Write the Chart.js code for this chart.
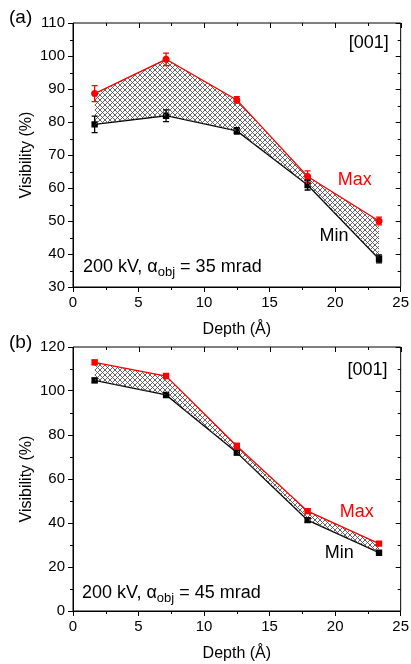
<!DOCTYPE html>
<html>
<head>
<meta charset="utf-8">
<script src="https://cdn.jsdelivr.net/npm/chart.js@4"></script>
<style>
  body { margin: 0; background: #fff; }
  #wrap { position: relative; width: 411px; height: 664px; }
  .panel { position: absolute; left: 0; width: 411px; }
  #pa { top: 0; height: 342px; }
  #pb { top: 330px; height: 334px; }
</style>
</head>
<body>
<div id="wrap">
  <div class="panel" id="pa"><canvas id="chartA"></canvas></div>
  <div class="panel" id="pb"><canvas id="chartB"></canvas></div>
</div>
<script>
// depth positions (Å), same for both panels
var depths = [1.65, 7.1, 12.5, 17.9, 23.35];

// panel (a): 35 mrad
var maxA = [88.6, 99.0, 86.7, 63.5, 50.0];
var maxErrA = [2.4, 1.9, 1.0, 1.7, 1.2];
var minA = [79.3, 81.9, 77.3, 60.9, 38.5];
var minErrA = [2.5, 1.8, 1.0, 1.5, 1.2];

// panel (b): 45 mrad
var maxB = [113.0, 106.8, 75.0, 45.4, 30.6];
var maxErrB = [1.0, 0.8, 1.2, 1.0, 0.8];
var minB = [104.8, 98.2, 72.0, 41.3, 26.5];
var minErrB = [1.0, 0.8, 1.0, 1.0, 0.6];

var xTicks = [0, 5, 10, 15, 20, 25];

Chart.defaults.font.family = '"Liberation Sans", Arial, sans-serif';
Chart.defaults.color = '#000';

function toPoints(ys) {
    return depths.map((d, i) => ({ x: d, y: ys[i] }));
}

function makeHatch() {
    var c = document.createElement('canvas');
    c.width = 5; c.height = 5;
    var g = c.getContext('2d');
    g.strokeStyle = '#555';
    g.lineWidth = 0.9;
    g.beginPath();
    g.moveTo(0, 0); g.lineTo(5, 5);
    g.moveTo(5, 0); g.lineTo(0, 5);
    g.stroke();
    return g.createPattern(c, 'repeat');
}

// error bars, minor ticks, mirrored frame and text labels
var extrasPlugin = {
    id: 'extras',
    afterDatasetsDraw(chart, args, opts) {
        var ctx = chart.ctx;
        var xs = chart.scales.x, ys = chart.scales.y;
        ctx.save();
        chart.data.datasets.forEach((ds) => {
            if (!ds.errors) return;
            ctx.strokeStyle = ds.borderColor;
            ctx.lineWidth = 1.3;
            ds.data.forEach((p, i) => {
                var px = xs.getPixelForValue(p.x);
                var top = ys.getPixelForValue(p.y + ds.errors[i]);
                var bot = ys.getPixelForValue(p.y - ds.errors[i]);
                ctx.beginPath();
                ctx.moveTo(px, top); ctx.lineTo(px, bot);
                ctx.moveTo(px - 3, top); ctx.lineTo(px + 3, top);
                ctx.moveTo(px - 3, bot); ctx.lineTo(px + 3, bot);
                ctx.stroke();
            });
        });
        ctx.restore();
    },
    afterDraw(chart, args, opts) {
        var ctx = chart.ctx;
        var a = chart.chartArea;
        var xs = chart.scales.x, ys = chart.scales.y;
        ctx.save();
        ctx.strokeStyle = '#000';
        ctx.lineWidth = 1;
        ctx.beginPath();
        ctx.rect(a.left, a.top, a.right - a.left, a.bottom - a.top);
        ctx.stroke();

        // x ticks: minor outward at bottom, all inward at top
        for (var v = xs.min; v <= xs.max + 1e-9; v += opts.xMinor) {
            var px = Math.round(xs.getPixelForValue(v)) + 0.5;
            var major = Math.abs(v / xs.options.ticks.stepSize - Math.round(v / xs.options.ticks.stepSize)) < 1e-6;
            ctx.beginPath();
            if (!major) { ctx.moveTo(px, a.bottom); ctx.lineTo(px, a.bottom + 3); }
            ctx.moveTo(px, a.top); ctx.lineTo(px, a.top + (major ? 5 : 3));
            ctx.stroke();
        }
        // y ticks: minor outward at left, all inward at right
        for (var w = ys.min; w <= ys.max + 1e-9; w += opts.yMinor) {
            var py = Math.round(ys.getPixelForValue(w)) + 0.5;
            var majorY = Math.abs(w / ys.options.ticks.stepSize - Math.round(w / ys.options.ticks.stepSize)) < 1e-6;
            ctx.beginPath();
            if (!majorY) { ctx.moveTo(a.left, py); ctx.lineTo(a.left - 3, py); }
            ctx.moveTo(a.right, py); ctx.lineTo(a.right - (majorY ? 5 : 3), py);
            ctx.stroke();
        }

        ctx.textBaseline = 'middle';
        (opts.labels || []).forEach((l) => {
            ctx.fillStyle = l.color || '#000';
            var x = xs.getPixelForValue(l.x);
            var y = ys.getPixelForValue(l.y);
            ctx.font = '18px "Liberation Sans", Arial, sans-serif';
            var w = ctx.measureText(l.text).width;
            ctx.textAlign = 'left';
            ctx.fillText(l.text, l.align === 'right' ? x - w : x, y);
        });

        // condition text with subscript
        if (opts.cond) {
            var c = opts.cond;
            var cx = xs.getPixelForValue(c.x);
            var cy = ys.getPixelForValue(c.y);
            ctx.fillStyle = '#000';
            ctx.textAlign = 'left';
            ctx.font = '18px "Liberation Sans", Arial, sans-serif';
            ctx.fillText(c.pre, cx, cy);
            cx += ctx.measureText(c.pre).width;
            ctx.font = '13px "Liberation Sans", Arial, sans-serif';
            ctx.fillText(c.sub, cx, cy + 5);
            cx += ctx.measureText(c.sub).width;
            ctx.font = '18px "Liberation Sans", Arial, sans-serif';
            ctx.fillText(c.post, cx, cy);
        }

        ctx.font = '19px "Liberation Sans", Arial, sans-serif';
        ctx.textAlign = 'left';
        ctx.fillStyle = '#000';
        ctx.fillText(opts.panel, opts.panelX, opts.panelY);
        ctx.restore();
    }
};

function buildChart(id, cfg) {
    var hatch = makeHatch();
    return new Chart(document.getElementById(id), {
        type: 'line',
        data: {
            datasets: [
                {
                    label: 'Max',
                    data: toPoints(cfg.max),
                    errors: cfg.maxErr,
                    borderColor: '#ff0000',
                    backgroundColor: hatch,
                    borderWidth: 1.3,
                    pointStyle: cfg.maxStyle,
                    pointRadius: cfg.maxStyle === 'rect' ? 4.5 : 3.5,
                    pointBackgroundColor: '#ff0000',
                    pointBorderWidth: 0,
                    fill: '+1',
                    tension: 0
                },
                {
                    label: 'Min',
                    data: toPoints(cfg.min),
                    errors: cfg.minErr,
                    borderColor: '#000000',
                    backgroundColor: '#000000',
                    borderWidth: 1.3,
                    pointStyle: 'rect',
                    pointRadius: 4.5,
                    pointBackgroundColor: '#000000',
                    pointBorderWidth: 0,
                    fill: false,
                    tension: 0
                }
            ]
        },
        options: {
            responsive: true,
            maintainAspectRatio: false,
            animation: false,
            layout: { padding: { top: cfg.top, right: 10, left: 0, bottom: 0 } },
            plugins: {
                legend: { display: false },
                tooltip: { enabled: false },
                extras: {
                    xMinor: 2.5,
                    yMinor: cfg.yMinor,
                    labels: cfg.labels,
                    cond: cfg.cond,
                    panel: cfg.panel,
                    panelX: cfg.panelX,
                    panelY: cfg.panelY
                }
            },
            scales: {
                x: {
                    type: 'linear',
                    min: 0,
                    max: 25,
                    afterBuildTicks: (s) => { s.ticks = xTicks.map(v => ({ value: v })); },
                    ticks: { stepSize: 5, font: { size: 15 }, padding: 2, maxRotation: 0 },
                    grid: { drawOnChartArea: false, tickLength: 5, color: '#000', tickWidth: 1 },
                    border: { color: '#000', width: 1 },
                    title: { display: true, text: 'Depth (Å)', font: { size: 16 }, padding: { top: 0, bottom: cfg.titlePad } },
                    afterFit: (s) => { s.height = cfg.xHeight; }
                },
                y: {
                    min: cfg.yMin,
                    max: cfg.yMax,
                    ticks: { stepSize: cfg.yStep, font: { size: 15 }, padding: 3 },
                    grid: { drawOnChartArea: false, tickLength: 5, color: '#000', tickWidth: 1 },
                    border: { color: '#000', width: 1 },
                    title: { display: true, text: 'Visibility (%)', font: { size: 16 }, padding: { top: 17, bottom: 0 } },
                    afterFit: (s) => { s.width = 73; }
                }
            }
        },
        plugins: [extrasPlugin]
    });
}

buildChart('chartA', {
    max: maxA, maxErr: maxErrA, min: minA, minErr: minErrA,
    maxStyle: 'circle',
    yMin: 30, yMax: 110, yStep: 10, yMinor: 5,
    top: 23, xHeight: 55, titlePad: 3,
    panel: '(a)', panelX: 9, panelY: 18,
    labels: [
        { text: '[001]', x: 24.1, y: 103.9, align: 'right' },
        { text: 'Max', x: 20.2, y: 62.4, color: '#ff0000' },
        { text: 'Min', x: 18.8, y: 45.5 }
    ],
    cond: { pre: '200 kV, α', sub: 'obj', post: ' = 35 mrad', x: 0.76, y: 36 }
});

buildChart('chartB', {
    max: maxB, maxErr: maxErrB, min: minB, minErr: minErrB,
    maxStyle: 'rect',
    yMin: 0, yMax: 120, yStep: 20, yMinor: 10,
    top: 17, xHeight: 53, titlePad: 1,
    panel: '(b)', panelX: 9, panelY: 13,
    labels: [
        { text: '[001]', x: 24.0, y: 109.5, align: 'right' },
        { text: 'Max', x: 20.35, y: 45, color: '#ff0000' },
        { text: 'Min', x: 19.2, y: 26.4 }
    ],
    cond: { pre: '200 kV, α', sub: 'obj', post: ' = 45 mrad', x: 0.69, y: 8.2 }
});
</script>
</body>
</html>
